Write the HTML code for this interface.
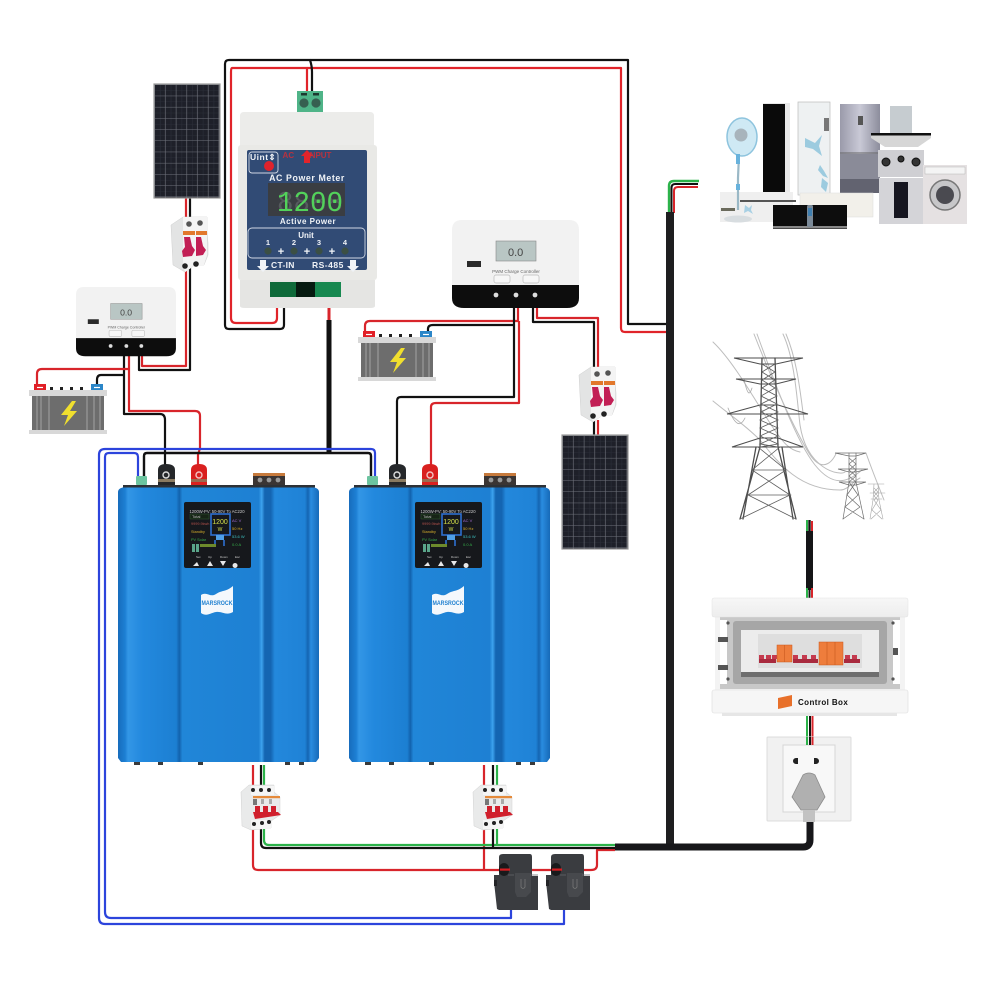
<!DOCTYPE html>
<html><head><meta charset="utf-8"><title>Solar grid-tie wiring diagram</title>
<style>html,body{margin:0;padding:0;background:#fff}svg{display:block}text{font-family:"Liberation Sans",sans-serif}</style></head>
<body>
<svg width="1000" height="1000" viewBox="0 0 1000 1000" xmlns="http://www.w3.org/2000/svg">
<defs>
<linearGradient id="inv" x1="0" x2="1" y1="0" y2="0">
<stop offset="0" stop-color="#176cbc"/><stop offset=".035" stop-color="#1d7fd3"/><stop offset=".05" stop-color="#3396e6"/><stop offset=".12" stop-color="#2389de"/><stop offset=".29" stop-color="#1c7fd2"/><stop offset=".305" stop-color="#1262ad"/><stop offset=".32" stop-color="#2086d8"/><stop offset=".7" stop-color="#1e80d3"/><stop offset=".715" stop-color="#3da2ee"/><stop offset=".73" stop-color="#1465b2"/><stop offset=".76" stop-color="#1465b2"/><stop offset=".78" stop-color="#2388dc"/><stop offset=".93" stop-color="#1f82d6"/><stop offset=".945" stop-color="#1465b2"/><stop offset=".96" stop-color="#2a8ce0"/><stop offset="1" stop-color="#166ab8"/>
</linearGradient>
<linearGradient id="fr" x1="0" x2="1" y1="0" y2="0"><stop offset="0" stop-color="#9a9aaa"/><stop offset=".5" stop-color="#c9c9d6"/><stop offset="1" stop-color="#8c8d9c"/></linearGradient>
<linearGradient id="gb" x1="0" x2="0" y1="0" y2="1"><stop offset="0" stop-color="#f7f7f7"/><stop offset="1" stop-color="#ededed"/></linearGradient>
<pattern id="pv" x="155" y="85" width="10.7" height="11.2" patternUnits="userSpaceOnUse"><rect width="10.7" height="11.2" fill="#1e2029"/><path d="M5.35 0V11.2M0 5.6H10.7" stroke="#2b2e38" stroke-width=".6"/><path d="M10.4 0V11.2M0 11H10.7" stroke="#70737c" stroke-width=".6"/></pattern>
<pattern id="pv2" x="563" y="436" width="10.7" height="11.2" patternUnits="userSpaceOnUse"><rect width="10.7" height="11.2" fill="#1e2029"/><path d="M5.35 0V11.2M0 5.6H10.7" stroke="#2b2e38" stroke-width=".6"/><path d="M10.4 0V11.2M0 11H10.7" stroke="#70737c" stroke-width=".6"/></pattern>

<g id="br2">
<path d="M1 8L13 0H37V14L38 26V38L34 48H25L15 55L3 48Z" fill="#e3e4e4" stroke="#cfcfcf" stroke-width=".5"/>
<path d="M13 0H37V38L34 48H25L15 55L13 48Z" fill="#f4f4f4"/>
<circle cx="19" cy="7" r="2.8" fill="#555"/><circle cx="30" cy="6" r="2.8" fill="#555"/>
<rect x="13" y="14" width="12" height="4" fill="#e2782c"/><rect x="26" y="14" width="11" height="4" fill="#e2782c"/>
<path d="M14 20h6l2 9 3 4-3 6-9 1-1-6 3-4z M26 20h5l2 9 3 4-3 5-7 1z" fill="#c21f55"/>
<circle cx="15" cy="49" r="2.8" fill="#222"/><circle cx="26" cy="47" r="2.8" fill="#222"/>
</g>

<g id="br3">
<path d="M0 7L8 0H33V7L39 12V30L30 36V43L10 45L1 41Z" fill="#e9eaea" stroke="#d2d2d2" stroke-width=".5"/>
<rect x="10" y="1" width="23" height="9" fill="#f5f5f5"/><rect x="10" y="35" width="20" height="9" fill="#f5f5f5"/>
<circle cx="12" cy="5" r="2" fill="#222"/><circle cx="20" cy="5" r="2" fill="#222"/><circle cx="28" cy="5" r="2" fill="#222"/>
<rect x="12" y="11" width="27" height="2.200" fill="#e58a3a"/>
<path d="M14 21h5v7h-5z M22 21h5v7h-5z M30 21h5v7h-5z" fill="#d01f2c"/>
<path d="M12 27H37L40 30L14 34Z" fill="#d01f2c"/>
<rect x="12" y="14" width="4" height="6" fill="#777"/><rect x="20" y="14" width="3" height="5" fill="#aaa"/><rect x="28" y="14" width="3" height="5" fill="#aaa"/>
<circle cx="13" cy="39" r="2" fill="#222"/><circle cx="21" cy="38" r="2" fill="#222"/><circle cx="28" cy="37" r="2" fill="#222"/>
</g>

<g id="ctl">
<path d="M10 0H117Q127 0 127 10V65H0V10Q0 0 10 0Z" fill="#f2f2f2"/>
<path d="M0 65H127V78Q127 88 115 88H12Q0 88 0 78Z" fill="#0d0d0d"/>
<rect x="44" y="21" width="40" height="20" fill="#b9c6c4" stroke="#888" stroke-width=".6"/>
<text x="56" y="36" font-size="11" fill="#444">0.0</text>
<text x="64" y="53" font-size="4.5" fill="#666" text-anchor="middle">PWM Charge Controller</text>
<rect x="15" y="41" width="14" height="6" fill="#2a2a2a"/>
<rect x="42" y="55" width="16" height="8" rx="2" fill="#f7f7f7" stroke="#bbb" stroke-width=".7"/>
<rect x="71" y="55" width="16" height="8" rx="2" fill="#f7f7f7" stroke="#bbb" stroke-width=".7"/>
<circle cx="44" cy="75" r="2.4" fill="#ddd"/><circle cx="64" cy="75" r="2.4" fill="#ddd"/><circle cx="83" cy="75" r="2.4" fill="#ddd"/>
</g>

<g id="bat">
<rect x="5" y="0" width="12" height="7" fill="#e11f26"/><rect x="62" y="0" width="12" height="7" fill="#2b86c8"/>
<path d="M8 3.5h6" stroke="#fff" stroke-width="1.2"/><path d="M65 3.5h6" stroke="#fff" stroke-width="1.2"/>
<path d="M21 3h3v3h-3z M31 3h3v3h-3z M41 3h3v3h-3z M51 3h3v3h-3z" fill="#222"/>
<rect x="0" y="6" width="78" height="6" fill="#d8d8d8"/>
<rect x="3" y="12" width="72" height="34" fill="#6d6d6d"/>
<path d="M8 12V46M12 12V46M20 12V46M58 12V46M65 12V46M71 12V46" stroke="#9a9a9a" stroke-width="1.2"/>
<rect x="0" y="46" width="78" height="4" fill="#d8d8d8"/>
<path d="M43 17L32 31H39L35 42L48 27H41L47 17Z" fill="#f0df2e"/>
</g>

<g id="inverter">
<path d="M118 492Q118 488 125 487H312Q319 488 319 492V758L316 762H121L118 758Z" fill="url(#inv)"/>
<rect x="123" y="485" width="192" height="2.5" fill="#2d3136"/>
<path d="M134 762h6v3h-6z M158 762h5v3h-5z M198 762h5v3h-5z M285 762h5v3h-5z M299 762h5v3h-5z" fill="#3a3a3a"/>
<rect x="253" y="473" width="32" height="3" fill="#c77a3c"/><rect x="253" y="476" width="32" height="9" fill="#3a3534"/>
<circle cx="260" cy="480" r="2.4" fill="#999"/><circle cx="269" cy="480" r="2.4" fill="#999"/><circle cx="278" cy="480" r="2.4" fill="#999"/>
<rect x="184" y="502" width="67" height="66" rx="2" fill="#16181c"/>
<text x="217" y="513" font-size="4.2" fill="#ccc" text-anchor="middle">1200W-PV: 50-90V To AC220</text>
<rect x="190" y="514" width="19" height="5" fill="#162416" stroke="#3a6a3a" stroke-width=".4"/>
<text x="192" y="518" font-size="4" fill="#bbb">Total</text>
<text x="191" y="525" font-size="3.8" fill="#b0504a">9999.9kwh</text>
<text x="191" y="533" font-size="3.8" fill="#d9b02c">Standby</text>
<text x="191" y="541" font-size="3.8" fill="#36b04a">PV Solar</text>
<rect x="211" y="514" width="19" height="21" fill="none" stroke="#2d6fd0" stroke-width="1.6"/>
<text x="220" y="524" font-size="7" fill="#d5e04a" text-anchor="middle">1200</text>
<text x="220" y="531" font-size="5" fill="#d5e04a" text-anchor="middle">W</text>
<rect x="216" y="535" width="8" height="5" fill="#4f9fe6"/>
<path d="M215 540V546M224 540V546" stroke="#2d6fd0" stroke-width="1.6"/>
<text x="232" y="522" font-size="4" fill="#a26ad0">AC V</text>
<text x="232" y="530" font-size="4" fill="#d9b02c">50 Hz</text>
<text x="232" y="538" font-size="4" fill="#3cc0c0">53.6 W</text>
<text x="232" y="546" font-size="4" fill="#36b04a">0.0 A</text>
<path d="M192 544h3v8h-3zM196 544h3v8h-3z" fill="#5aa58a"/><rect x="200" y="544" width="16" height="3" fill="#6d8a2c"/>
<text x="196" y="558" font-size="3" fill="#ccc">Set</text><text x="208" y="558" font-size="3" fill="#ccc">Up</text><text x="220" y="558" font-size="3" fill="#ccc">Down</text><text x="235" y="558" font-size="3" fill="#ccc">Esc</text>
<path d="M193 566l4-4 2 4zM207 566l3-5 3 5zM220 561h6l-3 5zM235 563a2.5 2.5 0 1 0 .1 0z" fill="#e8e8e8"/>
<path d="M201 595C207 591 210 598 216 594C222 590 226 592 233 586V612C226 616 222 611 216 612C210 613 207 617 201 613Z" fill="#f4f8fc"/>
<text x="217" y="605" font-size="6.2" font-weight="bold" fill="#1f80d0" text-anchor="middle" textLength="31" lengthAdjust="spacingAndGlyphs">MARSROCK</text>
<rect x="136" y="476" width="11" height="9" rx="1" fill="#6cc4a0"/>
<path d="M158 470Q158 464 166 464Q175 464 175 470V485H158Z" fill="#25272a"/>
<circle cx="166" cy="475" r="3" fill="none" stroke="#ddd" stroke-width="1.4"/><rect x="158" y="479" width="17" height="3" fill="#8a7a60"/>
<path d="M191 470Q191 464 199 464Q207 464 207 470V485H191Z" fill="#d9201f"/>
<circle cx="199" cy="475" r="3" fill="none" stroke="#f3c3c3" stroke-width="1.4"/><rect x="191" y="479" width="16" height="3" fill="#9a6a50"/>
</g>

<g id="ct">
<path d="M5 3Q5 0 9 0H36Q38 0 38 3V22H44V56H5L3 55L0 28V21H5Z" fill="#3a3c40"/>
<path d="M21 19H37V38L32 43H23L21 38Z" fill="#47494d"/>
<path d="M27 25V33Q29 36 31 33V25" fill="none" stroke="#777" stroke-width=".8"/>
<rect x="5" y="9" width="10" height="13" rx="5" fill="#191a1c"/>
<rect x="6" y="14.5" width="10" height="2.2" fill="#d51e22"/>
<path d="M14 21H20M36 21H44" stroke="#66686c" stroke-width=".8"/>
<rect x="0" y="26" width="3" height="6" fill="#232427"/>
</g>
</defs>

<!-- DC and AC control wires -->
<g fill="none" stroke-linejoin="round">
<path d="M307 92V68H232Q231 68 231 72V318Q231 323 236 323H272Q277 323 277 318V306" stroke="#e0242a" stroke-width="2.2"/>
<path d="M307 68H621V328Q621 332 625 332H667" stroke="#e0242a" stroke-width="2.2"/>
<path d="M312 92V72Q312 66 310 60H229Q225 60 225 64V325Q225 329 229 329H280Q284 329 284 325V306" stroke="#111" stroke-width="2.2"/>
<path d="M310 60H628V324H667" stroke="#111" stroke-width="2.2"/>

<path d="M186 198V366H142V356" stroke="#d8252b" stroke-width="2.2"/>
<path d="M190 198V370H139V356" stroke="#111" stroke-width="2.2"/>
<path d="M124 356V414H160Q165 414 165 420V466" stroke="#111" stroke-width="2.2"/>
<path d="M129 356V411H195Q200 411 200 416V448L198 455V466" stroke="#d8252b" stroke-width="2.2"/>
<path d="M129 369H42Q37 369 37 374V385" stroke="#d8252b" stroke-width="2.2"/>
<path d="M124 375H101Q97 375 97 380V384" stroke="#111" stroke-width="2.2"/>

<path d="M365 332V326Q365 321 370 321H518V306" stroke="#d8252b" stroke-width="2.2"/>
<path d="M428 332V329Q428 325 433 325H514V306" stroke="#111" stroke-width="2.2"/>
<path d="M514 325V397H401Q397 397 397 401V466" stroke="#111" stroke-width="2.2"/>
<path d="M519 321V403H436Q431 403 431 407V466" stroke="#d8252b" stroke-width="2.2"/>
<path d="M533 306V322H594V368" stroke="#111" stroke-width="2.2"/>
<path d="M537 306V318H598V368" stroke="#d8252b" stroke-width="2.2"/>
<path d="M594 420V436" stroke="#111" stroke-width="2.2"/>
<path d="M598 420V436" stroke="#d8252b" stroke-width="2.2"/>

<path d="M329 308V320" stroke="#d8252b" stroke-width="3"/>
<path d="M329 320V453" stroke="#111" stroke-width="5"/>
<path d="M144 477V456Q144 453 147 453H368Q371 453 371 456V477" stroke="#111" stroke-width="2.4"/>
<path d="M138 477V457Q138 453 134 453H109Q105 453 105 457V912Q105 918 111 918H511V908" stroke="#2c44dc" stroke-width="2.2"/>
<path d="M375 477V453Q375 449 371 449H105Q99 449 99 455V918Q99 924 105 924H564V908" stroke="#2c44dc" stroke-width="2.2"/>

<path d="M253 765V865Q253 870 258 870H591Q597 870 597 865V850H615" stroke="#d8252b" stroke-width="2.2"/>
<path d="M484 765V870" stroke="#d8252b" stroke-width="2.2"/>
<path d="M264 765V840Q264 845 269 845H615" stroke="#2cb34a" stroke-width="2.2"/>
<path d="M497 765V845" stroke="#2cb34a" stroke-width="2.2"/>
<path d="M261 765V843Q261 848 266 848H615" stroke="#111" stroke-width="2.2"/>
<path d="M493 765V848" stroke="#111" stroke-width="2.2"/>

<path d="M669 213V186Q669 181 674 181H699" stroke="#2cb34a" stroke-width="2.4"/>
<path d="M671.500 213V188Q671.500 184 675 184H698" stroke="#111" stroke-width="2"/>
<path d="M674 213V191Q674 187 678 187H698" stroke="#d8252b" stroke-width="2"/>
<path d="M670 212V845" stroke="#1e1e20" stroke-width="8"/>
<path d="M615 847H803Q810 847 810 840V820" stroke="#17171a" stroke-width="7"/>

<path d="M807 520V532" stroke="#2cb34a" stroke-width="2"/><path d="M809.500 520V532" stroke="#111" stroke-width="2.4"/><path d="M812 521V531" stroke="#d8252b" stroke-width="2"/>
<path d="M809.500 531V590" stroke="#151517" stroke-width="7"/>
<path d="M807 588V600" stroke="#2cb34a" stroke-width="2"/><path d="M809.500 588V600" stroke="#111" stroke-width="2"/><path d="M812 588V600" stroke="#d8252b" stroke-width="2"/>
<path d="M807 715V745" stroke="#2cb34a" stroke-width="2"/><path d="M810 715V745" stroke="#111" stroke-width="2"/><path d="M812.500 715V745" stroke="#d8252b" stroke-width="2"/>
</g>

<!-- solar panels -->
<rect x="154" y="84" width="66" height="114" fill="url(#pv)" stroke="#999" stroke-width="1.2"/>
<rect x="562" y="435" width="66" height="114" fill="url(#pv2)" stroke="#999" stroke-width="1.2"/>
<use href="#br2" x="170" y="217"/>
<use href="#br2" x="578" y="367"/>

<!-- meter -->
<path d="M297 91H323V112H297Z" fill="#4fb488"/>
<circle cx="304" cy="103" r="4.6" fill="#365f50"/><circle cx="316" cy="103" r="4.6" fill="#365f50"/>
<rect x="301" y="93" width="6" height="2.5" fill="#1d3a30"/><rect x="313" y="93" width="6" height="2.500" fill="#1d3a30"/>
<path d="M244 112H370Q374 112 374 116V146H240V116Q240 112 244 112Z" fill="#ececea"/>
<rect x="238" y="145" width="139" height="135" rx="3" fill="#e9e9e6"/>
<rect x="247" y="150" width="120" height="120" rx="2" fill="#314b75"/>
<path d="M240 280H375V306Q375 308 370 308H245Q240 308 240 306Z" fill="#e5e5e3"/>
<rect x="270" y="282" width="71" height="15" fill="#0f6a3a"/><rect x="296" y="282" width="19" height="15" fill="#061a10"/><rect x="315" y="282" width="26" height="15" fill="#178850"/>
<rect x="249" y="152" width="29" height="21" rx="3" fill="#314b75" stroke="#cfd6e2" stroke-width=".9"/>
<text x="250" y="160" font-size="8.500" font-weight="bold" fill="#f0f3f7" letter-spacing=".5">Uint⇕</text>
<circle cx="269" cy="166" r="5" fill="#e0232c"/>
<text x="307" y="158" font-size="8" font-weight="bold" fill="#b8323f" text-anchor="middle" xml:space="preserve">AC      INPUT</text>
<path d="M307 150l6 6h-3v7h-6v-7h-3z" fill="#e3242b"/>
<text x="307" y="181" font-size="8.800" font-weight="bold" fill="#f0f3f7" text-anchor="middle" letter-spacing=".6">AC Power  Meter</text>
<rect x="268" y="183" width="77" height="33" fill="#3a3d42"/>
<text x="277" y="211" font-size="29" fill="#565a5e" textLength="66" lengthAdjust="spacingAndGlyphs" style="font-family:'Liberation Mono',monospace">8888</text>
<text x="277" y="211" font-size="29" fill="#52d25a" textLength="66" lengthAdjust="spacingAndGlyphs" style="font-family:'Liberation Mono',monospace">1200</text>
<text x="308" y="224" font-size="8" font-weight="bold" fill="#f0f3f7" text-anchor="middle" letter-spacing=".5">Active Power</text>
<rect x="248" y="228" width="117" height="30" rx="4" fill="none" stroke="#cfd6e2" stroke-width=".9"/>
<text x="306" y="238" font-size="8" font-weight="bold" fill="#f0f3f7" text-anchor="middle">Unit</text>
<g font-size="7.500" font-weight="bold" fill="#f0f3f7" text-anchor="middle"><text x="268" y="245">1</text><text x="294" y="245">2</text><text x="319" y="245">3</text><text x="345" y="245">4</text></g>
<circle cx="268" cy="251" r="3.600" fill="#3b4f44"/><circle cx="294" cy="251" r="3.600" fill="#3b4f44"/><circle cx="319" cy="251" r="3.600" fill="#3b4f44"/><circle cx="345" cy="251" r="3.600" fill="#3b4f44"/>
<g font-size="11" fill="#f0f3f7" text-anchor="middle" font-weight="bold"><text x="281" y="255">+</text><text x="307" y="255">+</text><text x="332" y="255">+</text></g>
<g font-size="8.500" font-weight="bold" fill="#f0f3f7"><text x="271" y="268" letter-spacing=".3">CT-IN</text><text x="312" y="268" letter-spacing=".5">RS-485</text></g>
<path d="M260 260h6v6h3l-6 6-6-6h3z M350 260h6v6h3l-6 6-6-6h3z" fill="#f0f3f7"/>

<!-- controllers and batteries -->
<use href="#ctl" transform="translate(452 220)"/>
<use href="#ctl" transform="translate(76 287) scale(.787)"/>
<use href="#bat" x="29" y="384"/>
<use href="#bat" x="358" y="331"/>

<!-- inverters -->
<use href="#inverter"/>
<use href="#inverter" x="231"/>

<!-- AC breakers & CTs -->
<use href="#br3" x="241" y="785"/>
<use href="#br3" x="473" y="785"/>
<use href="#ct" x="494" y="854"/>
<use href="#ct" x="546" y="854"/>

<!-- appliances -->
<g>
<rect x="763" y="103" width="27" height="90" fill="#e9e9e9"/><rect x="763" y="104" width="22" height="88" fill="#0a0a0a"/>
<rect x="798" y="102" width="32" height="93" fill="#eef1f2" stroke="#bbb" stroke-width=".7"/>
<rect x="824" y="118" width="5" height="13" fill="#777"/>
<path d="M805 138l10 5 7-8-3 11 3 10-9-7-8-2z M820 165l4 6 4 7-5-2-5-6z M822 178l6 5-2 9-5-5z" fill="#9ccbdf"/>
<rect x="840" y="104" width="40" height="89" fill="url(#fr)"/>
<path d="M840 153H880" stroke="#666" stroke-width="1"/><rect x="858" y="116" width="5" height="9" fill="#555"/>
<rect x="840" y="154" width="40" height="25" fill="#8a8b98"/>
<rect x="840" y="179" width="40" height="14" fill="#626370"/>
<rect x="890" y="106" width="22" height="27" fill="#c6ccd0"/>
<path d="M871 133H931V138L918 147H885L871 138Z" fill="#d6d6d6"/><rect x="871" y="133" width="60" height="2.500" fill="#111"/>
<rect x="878" y="150" width="46" height="27" fill="#cfcfd3"/>
<g fill="#333" stroke="#111"><circle cx="886" cy="162" r="4"/><circle cx="901" cy="159" r="3"/><circle cx="916" cy="162" r="4"/></g>
<rect x="879" y="178" width="44" height="46" fill="#d4d4d8"/><rect x="894" y="182" width="14" height="36" fill="#161620"/>
<rect x="923" y="165" width="44" height="59" fill="#e5e1e2"/><rect x="925" y="167" width="40" height="7" fill="#f4f4f4" stroke="#aaa" stroke-width=".4"/>
<circle cx="945" cy="195" r="15" fill="#c7c7c9" stroke="#777" stroke-width="1.500"/><circle cx="945" cy="195" r="9" fill="#4a4a50"/>
<rect x="720" y="192" width="73" height="30" fill="#efefef"/><rect x="721" y="208" width="14" height="3" fill="#6a6a5c"/>
<rect x="740" y="200" width="56" height="2" fill="#555"/>
<path d="M745 205l4 3 3-3-1 5 2 4-5-3-4 2z" fill="#a8d0e4"/>
<rect x="800" y="193" width="73" height="24" fill="#f2f0ea" stroke="#ddd" stroke-width=".5"/>
<rect x="773" y="205" width="74" height="24" fill="#0d0d0d"/><rect x="773" y="226" width="74" height="2.500" fill="#888"/>
<rect x="807" y="205" width="6" height="22" rx="1.500" fill="#7b8a98"/><rect x="808" y="208" width="4" height="8" fill="#3f7fb0"/>
<ellipse cx="742" cy="137" rx="15" ry="19" fill="#cfe9f4" stroke="#8ec4de" stroke-width="1.500"/>
<circle cx="741" cy="135" r="6.500" fill="#a8b4bc"/>
<path d="M739 155L738 178V210" stroke="#9ab8c6" stroke-width="2.200" fill="none"/>
<rect x="736" y="154" width="4" height="10" fill="#68b2dc"/><rect x="736" y="184" width="4" height="6" fill="#68b2dc"/>
<ellipse cx="738" cy="219" rx="14" ry="3.500" fill="#d8dde0"/>
</g>

<!-- transmission towers -->
<g fill="none" stroke-linecap="round">
<g stroke="#bdbdbd" stroke-width="1">
<path d="M713 342C732 360 752 395 768 420S790 450 800 452"/>
<path d="M713 401C730 415 745 425 760 440C780 465 800 490 840 490C848 490 852 482 860 478"/>
<path d="M754 334C770 375 790 420 807 450S836 455 836 453"/>
<path d="M757 334C772 375 795 440 815 465S850 480 862 470"/>
<path d="M783 334C795 360 797 400 800 425C807 470 840 476 845 472"/>
<path d="M786 334C797 360 800 390 804 420"/>
<path d="M866 453C872 470 880 490 884 500"/>
</g>
<path d="M728 408C735 425 740 428 745 418M744 379C748 398 750 394 752 388" stroke="#aaa" stroke-width=".8"/>
<g stroke="#4d4d4d" stroke-width="1">
<path d="M734 358H803L776 364H760Z"/><path d="M736 379H796L776 384H760Z"/>
<path d="M727 414L760 405H778L808 414Z"/><path d="M732 447L760 438H778L803 447Z"/>
<path d="M762 358L760 447L740 519M775 358L778 447L796 519M756 447L743 519M782 447L793 519" stroke-width="1.300"/>
</g>
<g stroke="#5c5c5c" stroke-width=".8">
<path d="M762 364L775 372L762 380L775 388L761 396L777 404L761 412L778 420L760 428L778 436L760 444L778 447"/>
<path d="M775 364L762 372L775 380L762 388L777 396L761 404L778 412L760 420L778 428L760 436L778 444L760 447"/>
<path d="M758 447L786 470L748 495L796 519M780 447L752 470L790 495L740 519"/>
<path d="M753 470H786M747 495H791"/>
</g>
<g stroke="#6e6e6e" stroke-width=".7">
<path d="M835 453H866L856 456H849Z"/><path d="M838 469H868L856 472H849Z"/><path d="M839 482H866L856 485H849Z"/>
<path d="M849 453L849 482L843 519M856 453L856 482L864 519"/>
<path d="M849 458L856 464L849 470L856 476L849 482L858 495L845 507L864 519M856 458L849 464L856 470L849 476L856 482L847 495L860 507L843 519"/>
</g>
<g stroke="#a5a5a5" stroke-width=".6">
<path d="M868 484H884M870 493H885M871 499H882"/>
<path d="M874 484L873 500L870 519M878 484L879 500L883 519M874 488L878 492L874 496L878 500L872 510L882 519M878 488L874 492L878 496L874 500L881 510L871 519"/>
</g>
</g>

<!-- control box -->
<g>
<rect x="715" y="617" width="190" height="74" fill="#f3f3f3"/>
<rect x="720" y="617" width="180" height="72" fill="#c8c8c8"/>
<rect x="733" y="621" width="154" height="63" rx="3" fill="#a6a6a6"/>
<rect x="741" y="630" width="138" height="46" fill="#ececec"/>
<rect x="741" y="672" width="138" height="5" fill="#6e6e6e"/>
<rect x="758" y="634" width="104" height="34" fill="#dedede"/>
<path d="M759 659H776V663H759ZM793 659H818V663H793ZM844 659H860V663H844Z" fill="#a92a3e"/>
<path d="M759 655h5v4h-5zM766 655h5v4h-5zM772 655h5v4h-5zM793 655h5v4h-5zM802 655h5v4h-5zM811 655h5v4h-5zM845 655h5v4h-5zM852 655h5v4h-5z" fill="#c53a4e"/>
<rect x="777" y="645" width="15" height="17" fill="#ee7d3c" stroke="#c9591e" stroke-width=".5"/><path d="M784.500 645V662" stroke="#c9591e" stroke-width=".6"/>
<rect x="819" y="642" width="24" height="23" fill="#ee7d3c" stroke="#c9591e" stroke-width=".5"/><path d="M827 642V665M835 642V665" stroke="#c9591e" stroke-width=".6"/>
<rect x="720" y="620" width="7" height="64" fill="#fff"/><rect x="893" y="620" width="7" height="64" fill="#fff"/>
<path d="M718 637h10v5h-10zM718 665h10v5h-10zM893 648h5v7h-5z" fill="#555"/>
<g fill="#555"><circle cx="728" cy="623" r="1.600"/><circle cx="893" cy="623" r="1.600"/><circle cx="728" cy="679" r="1.600"/><circle cx="893" cy="679" r="1.600"/></g>
<rect x="712" y="598" width="196" height="19" rx="2" fill="url(#gb)" stroke="#e2e2e2" stroke-width=".5"/>
<rect x="712" y="690" width="196" height="23" rx="2" fill="#f6f6f6" stroke="#ddd" stroke-width=".6"/>
<rect x="722" y="713" width="175" height="3" fill="#e6e6e6"/>
<path d="M778 698L792 695V706L778 709Z" fill="#e8702a"/>
<text x="798" y="705" font-size="8" font-weight="bold" fill="#111" letter-spacing=".4">Control Box</text>
</g>

<!-- socket -->
<rect x="767" y="737" width="84" height="84" rx="1" fill="#f1f1f1" stroke="#dcdcdc"/>
<rect x="783" y="745" width="52" height="67" fill="#f8f8f8" stroke="#d6d6d6"/>
<path d="M807 737V745" stroke="#2cb34a" stroke-width="2"/><path d="M810 737V745" stroke="#111" stroke-width="2"/><path d="M812.500 737V745" stroke="#d8252b" stroke-width="2"/>
<path d="M796 758a3 3 0 1 0 0 6h2v-6zM814 758v6h2a3 3 0 1 0 0-6z" fill="#222"/>
<path d="M803 775Q809 771 815 775L825 797L817 810H801L792 797Z" fill="#b0b0b0" stroke="#8c8c8c" stroke-width=".8"/>
<rect x="803" y="810" width="12" height="12" fill="#c2c2c2"/>
</svg>
</body></html>
